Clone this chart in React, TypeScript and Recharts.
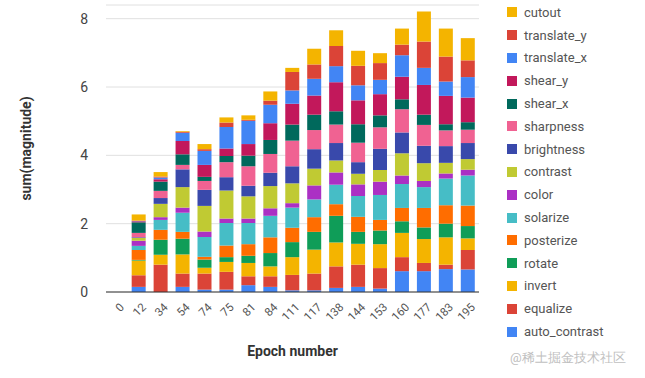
import React from 'react';
import { BarChart, Bar, XAxis, YAxis, CartesianGrid } from 'recharts';

const epochs = ['0', '12', '34', '54', '74', '75', '81', '84', '111', '117', '138', '144', '153', '160', '177', '183', '195'];

const autoContrast = [0, 0.15, 0, 0.15, 0.07, 0.07, 0.2, 0.15, 0.05, 0.05, 0.12, 0.15, 0.1, 0.61, 0.61, 0.67, 0.66];
const equalize = [0, 0.34, 0.8, 0.39, 0.47, 0.52, 0.26, 0.31, 0.45, 0.49, 0.63, 0.65, 0.6, 0.41, 0.24, 0.13, 0.57];
const invert = [0, 0.43, 0.29, 0.56, 0.17, 0.29, 0.39, 0.29, 0.52, 0.7, 0.7, 0.61, 0.7, 0.71, 0.7, 0.8, 0.34];
const rotate = [0, 0.02, 0.44, 0.46, 0.24, 0.14, 0.21, 0.39, 0.44, 0.52, 0.78, 0.35, 0.4, 0.34, 0.34, 0.4, 0.36];
const posterize = [0, 0.29, 0.29, 0.2, 0.08, 0.34, 0.34, 0.46, 0.42, 0.43, 0.34, 0.44, 0.31, 0.39, 0.57, 0.54, 0.6];
const solarize = [0, 0.12, 0.29, 0.56, 0.58, 0.66, 0.62, 0.63, 0.59, 0.52, 0.57, 0.61, 0.73, 0.7, 0.61, 0.78, 0.88];
const color = [0, 0.15, 0.08, 0.15, 0.16, 0.13, 0.13, 0.22, 0.13, 0.41, 0.36, 0.34, 0.39, 0.25, 0.18, 0.15, 0.17];
const contrast = [0, 0.08, 0.39, 0.6, 0.75, 0.82, 0.65, 0.65, 0.58, 0.49, 0.35, 0.31, 0.34, 0.65, 0.52, 0.31, 0.31];
const brightness = [0, 0.02, 0.17, 0.52, 0.47, 0.39, 0.31, 0.39, 0.5, 0.57, 0.51, 0.34, 0.62, 0.61, 0.51, 0.49, 0.47];
const sharpness = [0, 0.13, 0.21, 0.13, 0.26, 0.44, 0.57, 0.55, 0.75, 0.56, 0.54, 0.57, 0.63, 0.68, 0.61, 0.46, 0.39];
const shearX = [0, 0.31, 0.27, 0.31, 0.12, 0.18, 0.31, 0.41, 0.47, 0.45, 0.39, 0.54, 0.35, 0.29, 0.3, 0.18, 0.22];
const shearY = [0, 0.03, 0.07, 0.39, 0.35, 0.22, 0.34, 0.49, 0.61, 0.56, 0.85, 0.7, 0.62, 0.66, 0.87, 0.83, 0.72];
const translateX = [0, 0.01, 0.05, 0.24, 0.41, 0.63, 0.68, 0.54, 0.39, 0.49, 0.47, 0.44, 0.42, 0.63, 0.5, 0.42, 0.6];
const translateY = [0, 0.01, 0.03, 0.03, 0.05, 0.13, 0.03, 0.12, 0.54, 0.42, 0.59, 0.57, 0.49, 0.31, 0.77, 0.73, 0.49];
const cutout = [0, 0.18, 0.13, 0.02, 0.15, 0.15, 0.13, 0.27, 0.12, 0.46, 0.46, 0.44, 0.29, 0.47, 0.88, 0.82, 0.65];

const yTicks = [0, 2, 4, 6, 8];

// bottom of the stack first
const series = [
  { key: 'auto_contrast', values: autoContrast, fill: '#4285F4' },
  { key: 'equalize', values: equalize, fill: '#DB4437' },
  { key: 'invert', values: invert, fill: '#F4B400' },
  { key: 'rotate', values: rotate, fill: '#0F9D58' },
  { key: 'posterize', values: posterize, fill: '#FF6D00' },
  { key: 'solarize', values: solarize, fill: '#46BDC6' },
  { key: 'color', values: color, fill: '#AB30C4' },
  { key: 'contrast', values: contrast, fill: '#C0CA33' },
  { key: 'brightness', values: brightness, fill: '#3949AB' },
  { key: 'sharpness', values: sharpness, fill: '#F06292' },
  { key: 'shear_x', values: shearX, fill: '#00695C' },
  { key: 'shear_y', values: shearY, fill: '#C2185B' },
  { key: 'translate_x', values: translateX, fill: '#4285F4' },
  { key: 'translate_y', values: translateY, fill: '#DB4437' },
  { key: 'cutout', values: cutout, fill: '#F4B400' },
];

const data = epochs.map((epoch, i) => {
  const row: Record<string, number | string> = { epoch };
  series.forEach(s => { row[s.key] = s.values[i]; });
  return row;
});

const font = 'Roboto, "Noto Sans", sans-serif';

const XTick = (props: any) => {
  const { x, y, payload } = props;
  return (
    <g transform={`translate(${x + 5},${y + 5})`}>
      <text textAnchor="end" transform="rotate(-45)" fontSize={11.5} fill="#555" fontFamily={font} dy={4}>
        {payload.value}
      </text>
    </g>
  );
};

const App: React.FC = () => {
  return (
    <div style={{ position: 'absolute', left: 0, top: 0, width: 645, height: 378, background: '#fff', fontFamily: font }}>
      <BarChart
        width={645}
        height={378}
        data={data}
        margin={{ top: 5, right: 166, left: 0, bottom: 0 }}
        barCategoryGap="17%"
      >
        <CartesianGrid vertical={false} stroke="#e0e0e0" />
        <XAxis
          dataKey="epoch"
          height={86}
          tickLine={false}
          axisLine={{ stroke: '#333' }}
          interval={0}
          tick={<XTick />}
          label={{ value: 'Epoch number', position: 'insideBottom', offset: 22, fontSize: 14, fontWeight: 'bold', fill: '#333', fontFamily: font }}
        />
        <YAxis
          width={106}
          domain={[0, 8.4]}
          ticks={yTicks}
          tickLine={false}
          axisLine={false}
          tickMargin={12}
          tick={{ fontSize: 14, fill: '#444', fontFamily: font }}
          label={{ value: 'sum(magnitude)', angle: -90, position: 'insideLeft', offset: 26, fontSize: 14, fontWeight: 'bold', fill: '#333', fontFamily: font, style: { textAnchor: 'middle' } }}
        />
        {series.map(s => (
          <Bar key={s.key} dataKey={s.key} stackId="a" fill={s.fill} isAnimationActive={false} />
        ))}
      </BarChart>
      <div style={{ position: 'absolute', left: 507, top: 1 }}>
        {[...series].reverse().map(s => (
          <div key={s.key} style={{ height: 22.8, display: 'flex', alignItems: 'center' }}>
            <span style={{ width: 10, height: 10, background: s.fill, display: 'inline-block', marginRight: 7 }} />
            <span style={{ fontSize: 13, color: '#555' }}>{s.key}</span>
          </div>
        ))}
      </div>
      <div style={{ position: 'absolute', left: 510, top: 349, fontSize: 13, color: '#c0c0c0' }}>@稀土掘金技术社区</div>
    </div>
  );
};

export default App;
